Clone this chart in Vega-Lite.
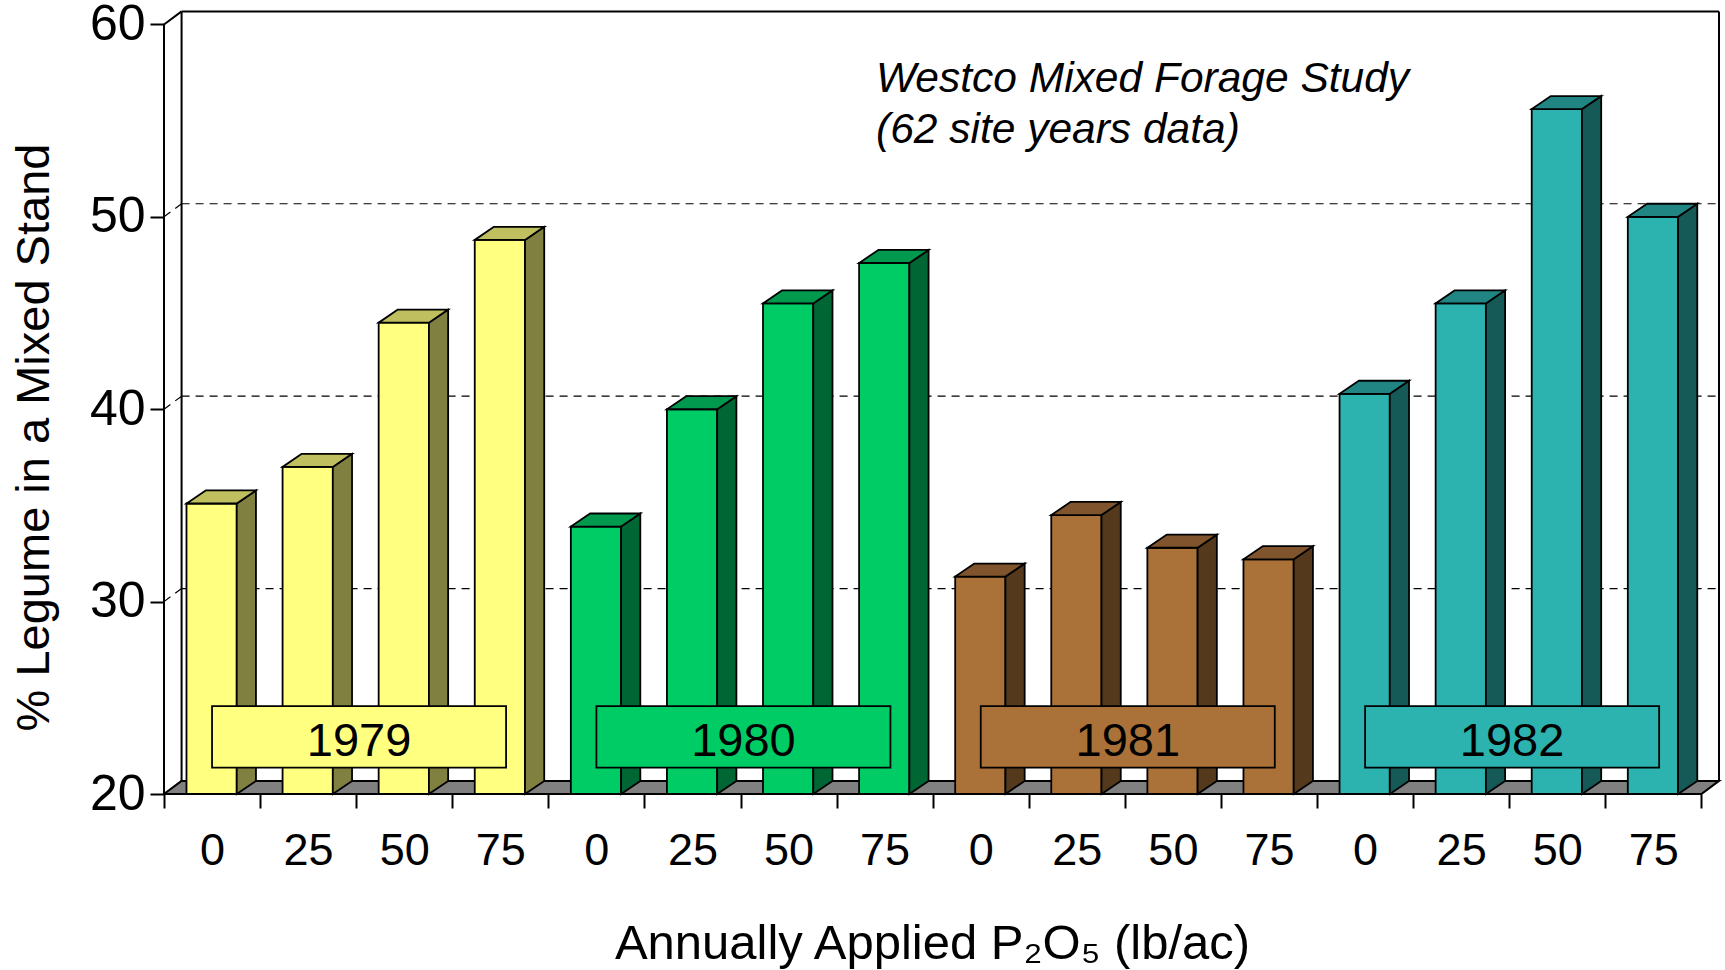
{
  "$schema": "https://vega.github.io/schema/vega-lite/v6.json",
  "width": 1555,
  "height": 783,
  "autosize": {"type": "none"},
  "padding": {"left": 164, "top": 11, "right": 6, "bottom": 176},
  "background": "white",
  "datasets": {
    "bars": [
      {"year": "1979", "p": 0, "v": 35.1},
      {"year": "1979", "p": 25, "v": 37.0},
      {"year": "1979", "p": 50, "v": 44.5},
      {"year": "1979", "p": 75, "v": 48.8},
      {"year": "1980", "p": 0, "v": 33.9},
      {"year": "1980", "p": 25, "v": 40.0},
      {"year": "1980", "p": 50, "v": 45.5},
      {"year": "1980", "p": 75, "v": 47.6},
      {"year": "1981", "p": 0, "v": 31.3},
      {"year": "1981", "p": 25, "v": 34.5},
      {"year": "1981", "p": 50, "v": 32.8},
      {"year": "1981", "p": 75, "v": 32.2},
      {"year": "1982", "p": 0, "v": 40.8},
      {"year": "1982", "p": 25, "v": 45.5},
      {"year": "1982", "p": 50, "v": 55.6},
      {"year": "1982", "p": 75, "v": 50.0}
    ],
    "years": [{"year": "1979"}, {"year": "1980"}, {"year": "1981"}, {"year": "1982"}],
    "grid": [{"g": 30}, {"g": 40}, {"g": 50}]
  },
  "layer": [
    {
      "data": {"name": "bars"},
      "transform": [{"calculate": "(toNumber(datum.year) - 1979) * 4 + datum.p / 25", "as": "i"}],
      "mark": {"type": "point", "opacity": 0},
      "encoding": {
        "x": {"field": "i", "type": "quantitative", "scale": {"domain": [0, 16.183], "nice": false, "zero": false},
          "axis": {"orient": "bottom", "values": [0, 1, 2, 3, 4, 5, 6, 7, 8, 9, 10, 11, 12, 13, 14, 15, 16],
            "labelExpr": "datum.value < 16 ? '' + (floor(datum.value) % 4) * 25 : ''", "labelOffset": 48,
            "domain": false, "grid": false, "ticks": true, "tickSize": 14, "tickWidth": 2,
            "labelFontSize": 45, "labelPadding": 20, "labelFlush": false, "labelOverlap": false, "labelBound": false,
            "title": "Annually Applied P₂O₅ (lb/ac)", "titleFontSize": 49, "titlePadding": 46, "titleX": 768}},
        "y": {"field": "v", "type": "quantitative", "scale": {"domain": [20, 60.7], "nice": false, "zero": false},
          "axis": {"orient": "left", "values": [20, 30, 40, 50, 60], "domain": false, "grid": false, "ticks": true, "tickSize": 14, "tickWidth": 2,
            "labelFontSize": 50, "labelPadding": 5, "labelFlush": false, "labelOverlap": false, "labelBound": false,
            "title": "% Legume in a Mixed Stand", "titleFontSize": 47, "titlePadding": 31, "titleY": 426}}
      }
    },
    {
      "data": {"name": "grid"},
      "transform": [{"calculate": "datum.g + 0.68", "as": "gb"}],
      "mark": {"type": "rule", "stroke": "#000", "strokeWidth": 1.2, "strokeDash": [8, 6]},
      "encoding": {
        "x": {"datum": 0.183, "type": "quantitative"},
        "x2": {"datum": 16.183},
        "y": {"field": "gb", "type": "quantitative"}
      }
    },
    {
      "data": {"name": "grid"},
      "transform": [{"calculate": "datum.g + 0.68", "as": "gb"}],
      "mark": {"type": "rule", "stroke": "#000", "strokeWidth": 1.2, "strokeDash": [8, 6]},
      "encoding": {
        "x": {"datum": 0, "type": "quantitative"},
        "x2": {"datum": 0.183},
        "y": {"field": "g", "type": "quantitative"},
        "y2": {"field": "gb"}
      }
    },
    {
      "data": {"values": [{"surface": "floor"}]},
      "transform": [
        {"calculate": "[0,1]", "as": "k"},
        {"flatten": ["k"]},
        {"calculate": "20 + datum.k * 0.68", "as": "fy"},
        {"calculate": "datum.k * 0.183", "as": "fx"},
        {"calculate": "16 + datum.k * 0.183", "as": "fx2"}
      ],
      "mark": {"type": "area", "orient": "horizontal", "fill": "#808080", "stroke": "#000", "strokeWidth": 2},
      "encoding": {
        "y": {"field": "fy", "type": "quantitative"},
        "x": {"field": "fx", "type": "quantitative"},
        "x2": {"field": "fx2"}
      }
    },
    {
      "data": {"values": [{}]},
      "mark": {"type": "rule", "stroke": "#000", "strokeWidth": 2},
      "encoding": {
        "x": {"datum": 0, "type": "quantitative"},
        "y": {"datum": 20, "type": "quantitative"},
        "y2": {"datum": 60}
      }
    },
    {
      "data": {"values": [{}]},
      "mark": {"type": "rule", "stroke": "#000", "strokeWidth": 2},
      "encoding": {
        "x": {"datum": 0, "type": "quantitative"},
        "x2": {"datum": 0.183},
        "y": {"datum": 60, "type": "quantitative"},
        "y2": {"datum": 60.68}
      }
    },
    {
      "data": {"values": [{}]},
      "mark": {"type": "rule", "stroke": "#000", "strokeWidth": 2},
      "encoding": {
        "x": {"datum": 0.183, "type": "quantitative"},
        "y": {"datum": 20.68, "type": "quantitative"},
        "y2": {"datum": 60.68}
      }
    },
    {
      "data": {"values": [{}]},
      "mark": {"type": "rule", "stroke": "#000", "strokeWidth": 2},
      "encoding": {
        "x": {"datum": 0.183, "type": "quantitative"},
        "x2": {"datum": 16.183},
        "y": {"datum": 60.68, "type": "quantitative"}
      }
    },
    {
      "data": {"values": [{}]},
      "mark": {"type": "rule", "stroke": "#000", "strokeWidth": 2},
      "encoding": {
        "x": {"datum": 16.183, "type": "quantitative"},
        "y": {"datum": 20.68, "type": "quantitative"},
        "y2": {"datum": 60.68}
      }
    },
    {
      "data": {"name": "bars"},
      "transform": [
        {"calculate": "(toNumber(datum.year) - 1979) * 4 + datum.p / 25", "as": "i"},
        {"calculate": "datum.i + 0.234", "as": "xl"},
        {"calculate": "datum.i + 0.757", "as": "xr"},
        {"calculate": "datum.year + 'f'", "as": "face"}
      ],
      "mark": {"type": "rect", "stroke": "#000", "strokeWidth": 1.8},
      "encoding": {
        "x": {"field": "xl", "type": "quantitative"},
        "x2": {"field": "xr"},
        "y": {"field": "v", "type": "quantitative"},
        "y2": {"datum": 20},
        "fill": {"field": "face", "type": "nominal", "legend": null,
          "scale": {"domain": ["1979f","1979s","1979t","1980f","1980s","1980t","1981f","1981s","1981t","1982f","1982s","1982t"],
            "range": ["#FFFF80","#808040","#BFBF60","#00CC66","#006633","#00994D","#AA7139","#55391D","#80552D","#2CB3AF","#165A58","#218683"]}}
      }
    },
    {
      "data": {"name": "bars"},
      "transform": [
        {"calculate": "(toNumber(datum.year) - 1979) * 4 + datum.p / 25", "as": "i"},
        {"calculate": "[0,1]", "as": "k"},
        {"flatten": ["k"]},
        {"calculate": "datum.i + 0.757 + datum.k * 0.2", "as": "sx"},
        {"calculate": "datum.v + datum.k * 0.68", "as": "sy"},
        {"calculate": "20 + datum.k * 0.68", "as": "sy2"},
        {"calculate": "datum.year + 's'", "as": "face"}
      ],
      "mark": {"type": "area", "stroke": "#000", "strokeWidth": 1.8},
      "encoding": {
        "x": {"field": "sx", "type": "quantitative"},
        "y": {"field": "sy", "type": "quantitative"},
        "y2": {"field": "sy2"},
        "detail": {"field": "i", "type": "nominal"},
        "fill": {"field": "face", "type": "nominal", "legend": null}
      }
    },
    {
      "data": {"name": "bars"},
      "transform": [
        {"calculate": "(toNumber(datum.year) - 1979) * 4 + datum.p / 25", "as": "i"},
        {"calculate": "[0,1]", "as": "k"},
        {"flatten": ["k"]},
        {"calculate": "datum.i + 0.234 + datum.k * 0.2", "as": "tx"},
        {"calculate": "datum.i + 0.757 + datum.k * 0.2", "as": "tx2"},
        {"calculate": "datum.v + datum.k * 0.68", "as": "ty"},
        {"calculate": "datum.year + 't'", "as": "face"}
      ],
      "mark": {"type": "area", "orient": "horizontal", "stroke": "#000", "strokeWidth": 1.8},
      "encoding": {
        "y": {"field": "ty", "type": "quantitative"},
        "x": {"field": "tx", "type": "quantitative"},
        "x2": {"field": "tx2"},
        "detail": {"field": "i", "type": "nominal"},
        "fill": {"field": "face", "type": "nominal", "legend": null}
      }
    },
    {
      "data": {"name": "years"},
      "transform": [
        {"calculate": "(toNumber(datum.year) - 1979) * 4", "as": "g0"},
        {"calculate": "datum.g0 + 0.5", "as": "bx"},
        {"calculate": "datum.g0 + 3.56", "as": "bx2"},
        {"calculate": "datum.year + 'f'", "as": "face"}
      ],
      "mark": {"type": "rect", "stroke": "#000", "strokeWidth": 1.8},
      "encoding": {
        "x": {"field": "bx", "type": "quantitative"},
        "x2": {"field": "bx2"},
        "y": {"datum": 21.37, "type": "quantitative"},
        "y2": {"datum": 24.57},
        "fill": {"field": "face", "type": "nominal", "legend": null}
      }
    },
    {
      "data": {"name": "years"},
      "transform": [
        {"calculate": "(toNumber(datum.year) - 1979) * 4 + 2.03", "as": "cx"}
      ],
      "mark": {"type": "text", "fontSize": 47, "font": "Liberation Sans", "align": "center", "baseline": "middle", "color": "#000"},
      "encoding": {
        "x": {"field": "cx", "type": "quantitative"},
        "y": {"datum": 22.7, "type": "quantitative"},
        "text": {"field": "year"}
      }
    },
    {
      "data": {"values": [{}]},
      "mark": {"type": "text", "text": "Westco Mixed Forage Study", "font": "Liberation Sans", "fontStyle": "italic", "fontSize": 42.5, "align": "left", "baseline": "alphabetic", "color": "#000"},
      "encoding": {
        "x": {"datum": 7.41, "type": "quantitative"},
        "y": {"datum": 56.48, "type": "quantitative"}
      }
    },
    {
      "data": {"values": [{}]},
      "mark": {"type": "text", "text": "(62 site years data)", "font": "Liberation Sans", "fontStyle": "italic", "fontSize": 42.5, "align": "left", "baseline": "alphabetic", "color": "#000"},
      "encoding": {
        "x": {"datum": 7.41, "type": "quantitative"},
        "y": {"datum": 53.83, "type": "quantitative"}
      }
    }
  ],
  "config": {
    "view": {"stroke": null},
    "axis": {"labelFont": "Liberation Sans", "titleFont": "Liberation Sans", "labelColor": "#000", "titleColor": "#000", "titleFontWeight": "normal", "tickColor": "#000", "domainColor": "#000"}
  }
}
